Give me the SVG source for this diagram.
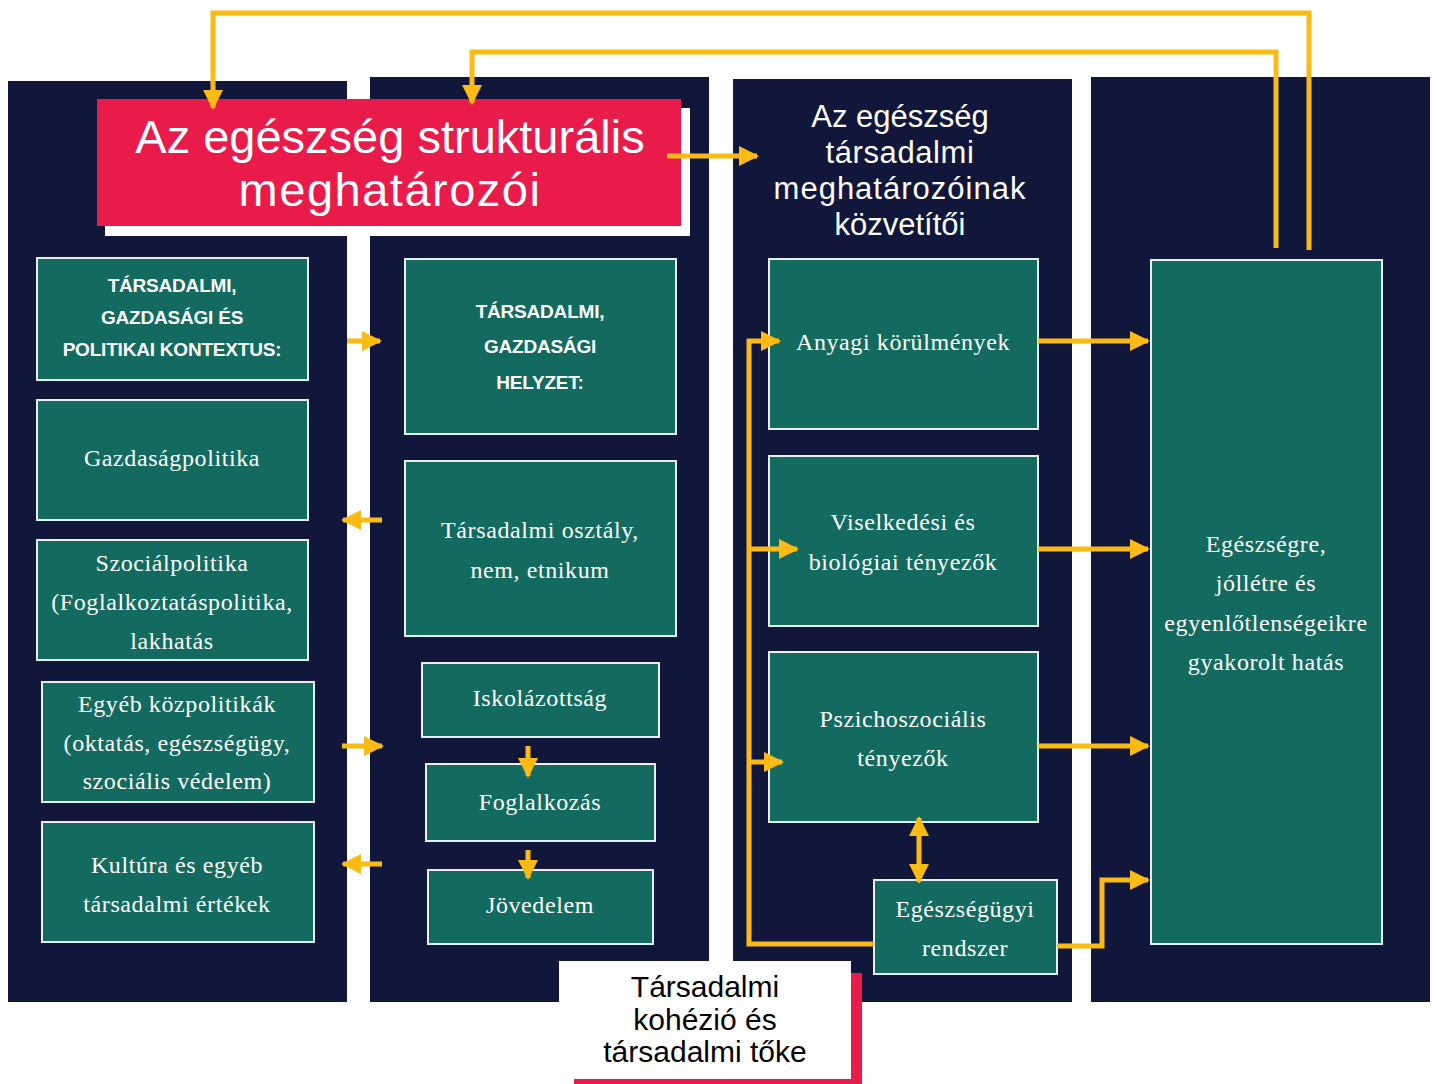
<svg xmlns="http://www.w3.org/2000/svg" width="1437" height="1084" viewBox="0 0 1437 1084">
<style>
.panel{fill:#11163b}
.box{fill:#136b5f;stroke:#e8efec;stroke-width:2}
.st{font-family:"Liberation Serif",serif;font-size:24px;fill:#ffffff;text-anchor:middle;letter-spacing:0.6px}
.hd{font-family:"Liberation Sans",sans-serif;font-weight:bold;font-size:19px;fill:#ffffff;text-anchor:middle;letter-spacing:-0.2px}
.ttl{font-family:"Liberation Sans",sans-serif;fill:#ffffff;text-anchor:middle}
.blk{font-family:"Liberation Sans",sans-serif;fill:#000000;text-anchor:middle;font-size:30px}
.ln{fill:none;stroke:#fbbb12;stroke-width:5}
</style>
<defs>
<marker id="ah" viewBox="0 0 10 10" refX="9" refY="5" markerWidth="4" markerHeight="4" markerUnits="strokeWidth" orient="auto-start-reverse">
<path d="M0,0 L10,5 L0,10 z" fill="#fbbb12"/>
</marker>
</defs>
<rect width="1437" height="1084" fill="#ffffff"/>
<g id="panels">
<rect class="panel" x="8" y="81" width="339" height="921"/>
<rect class="panel" x="370" y="77" width="339" height="925"/>
<rect class="panel" x="733" y="79" width="339" height="923"/>
<rect class="panel" x="1091" y="77" width="339" height="925"/>
</g>
<g id="title-structural">
<rect x="105" y="108" width="585" height="128" fill="#ffffff"/>
<rect x="97" y="99" width="584" height="127" fill="#e91b4b"/>
<text class="ttl" font-size="47" x="390" y="153">Az egészség strukturális</text>
<text class="ttl" font-size="47" x="390" y="206" letter-spacing="1.5">meghatározói</text>
</g>
<g id="title-intermediary">
<text class="ttl" font-size="31" x="900" y="127">Az egészség</text>
<text class="ttl" font-size="31" x="900" y="163" letter-spacing="0.6">társadalmi</text>
<text class="ttl" font-size="31" x="900" y="199" letter-spacing="1">meghatározóinak</text>
<text class="ttl" font-size="31" x="900" y="235">közvetítői</text>
</g>
<g id="n-context">
<rect class="box" x="37" y="258" width="271" height="122"/>
<text class="hd" x="172" y="292">TÁRSADALMI,</text>
<text class="hd" x="172" y="324">GAZDASÁGI ÉS</text>
<text class="hd" x="172" y="356">POLITIKAI KONTEXTUS:</text>
</g>
<g id="n-gazdasag">
<rect class="box" x="37" y="400" width="271" height="120"/>
<text class="st" x="172" y="466">Gazdaságpolitika</text>
</g>
<g id="n-szocial">
<rect class="box" x="37" y="540" width="271" height="120"/>
<text class="st" x="172" y="571">Szociálpolitika</text>
<text class="st" x="172" y="610">(Foglalkoztatáspolitika,</text>
<text class="st" x="172" y="649">lakhatás</text>
</g>
<g id="n-egyeb">
<rect class="box" x="42" y="682" width="272" height="120"/>
<text class="st" x="177" y="712">Egyéb közpolitikák</text>
<text class="st" x="177" y="751">(oktatás, egészségügy,</text>
<text class="st" x="177" y="789">szociális védelem)</text>
</g>
<g id="n-kultura">
<rect class="box" x="42" y="822" width="272" height="120"/>
<text class="st" x="177" y="873">Kultúra és egyéb</text>
<text class="st" x="177" y="912">társadalmi értékek</text>
</g>
<g id="n-helyzet">
<rect class="box" x="405" y="259" width="271" height="175"/>
<text class="hd" x="540" y="318">TÁRSADALMI,</text>
<text class="hd" x="540" y="353">GAZDASÁGI</text>
<text class="hd" x="540" y="389">HELYZET:</text>
</g>
<g id="n-osztaly">
<rect class="box" x="405" y="461" width="271" height="175"/>
<text class="st" x="540" y="538">Társadalmi osztály,</text>
<text class="st" x="540" y="578">nem, etnikum</text>
</g>
<g id="n-iskola">
<rect class="box" x="422" y="663" width="237" height="74"/>
<text class="st" x="540" y="706">Iskolázottság</text>
</g>
<g id="n-foglalkozas">
<rect class="box" x="426" y="764" width="229" height="77"/>
<text class="st" x="540" y="810">Foglalkozás</text>
</g>
<g id="n-jovedelem">
<rect class="box" x="428" y="870" width="225" height="74"/>
<text class="st" x="540" y="913">Jövedelem</text>
</g>
<g id="n-anyagi">
<rect class="box" x="769" y="259" width="269" height="170"/>
<text class="st" x="903" y="350">Anyagi körülmények</text>
</g>
<g id="n-viselkedes">
<rect class="box" x="769" y="456" width="269" height="170"/>
<text class="st" x="903" y="530">Viselkedési és</text>
<text class="st" x="903" y="570">biológiai tényezők</text>
</g>
<g id="n-pszicho">
<rect class="box" x="769" y="652" width="269" height="170"/>
<text class="st" x="903" y="727">Pszichoszociális</text>
<text class="st" x="903" y="766">tényezők</text>
</g>
<g id="n-egeszsegugy">
<rect class="box" x="874" y="880" width="183" height="94"/>
<text class="st" x="965" y="917">Egészségügyi</text>
<text class="st" x="965" y="956">rendszer</text>
</g>
<g id="n-hatas">
<rect class="box" x="1151" y="260" width="231" height="684"/>
<text class="st" x="1266" y="552">Egészségre,</text>
<text class="st" x="1266" y="591">jóllétre és</text>
<text class="st" x="1266" y="631">egyenlőtlenségeikre</text>
<text class="st" x="1266" y="670">gyakorolt hatás</text>
</g>
<g id="n-kohezio">
<rect x="574" y="973" width="288" height="111" fill="#e91b4b"/>
<rect x="559" y="961" width="292" height="118" fill="#ffffff"/>
<text class="blk" x="705" y="997">Társadalmi</text>
<text class="blk" x="705" y="1030">kohézió és</text>
<text class="blk" x="705" y="1062">társadalmi tőke</text>
</g>
<g id="connectors">
<path class="ln" d="M1309,250 V13 H213 V108" marker-end="url(#ah)"/>
<path class="ln" d="M1276,248 V52 H472 V103" marker-end="url(#ah)"/>
<path class="ln" d="M667,156 H757" marker-end="url(#ah)"/>
<path class="ln" d="M347,341 H380" marker-end="url(#ah)"/>
<path class="ln" d="M382,520 H343" marker-end="url(#ah)"/>
<path class="ln" d="M342,746 H382" marker-end="url(#ah)"/>
<path class="ln" d="M382,864 H343" marker-end="url(#ah)"/>
<path class="ln" d="M528,746 V776" marker-end="url(#ah)"/>
<path class="ln" d="M528,850 V878" marker-end="url(#ah)"/>
<path class="ln" d="M874,944 H749 V341 H779" marker-end="url(#ah)"/>
<path class="ln" d="M749,549 H797" marker-end="url(#ah)"/>
<path class="ln" d="M749,762 H782" marker-end="url(#ah)"/>
<path class="ln" d="M919,818 V882" marker-start="url(#ah)" marker-end="url(#ah)"/>
<path class="ln" d="M1038,341 H1148" marker-end="url(#ah)"/>
<path class="ln" d="M1038,549 H1148" marker-end="url(#ah)"/>
<path class="ln" d="M1038,746 H1148" marker-end="url(#ah)"/>
<path class="ln" d="M1057,946 H1102 V880 H1148" marker-end="url(#ah)"/>
</g>
</svg>
